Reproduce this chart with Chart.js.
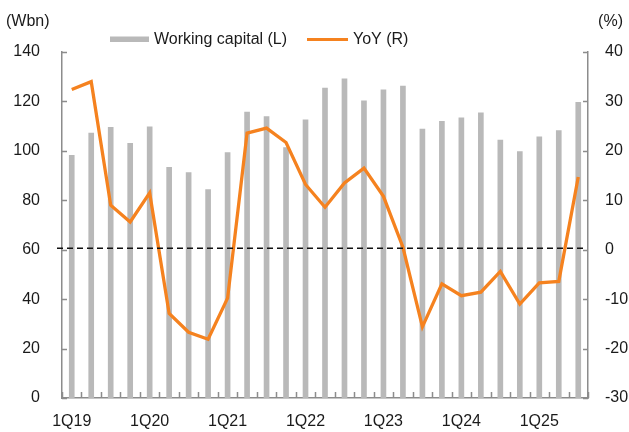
<!DOCTYPE html>
<html>
<head>
<meta charset="utf-8">
<script src="https://cdn.jsdelivr.net/npm/chart.js@4.4.1/dist/chart.umd.min.js"></script>
<style>
  html, body { margin: 0; padding: 0; background: #fff; }
  #wrap { width: 629px; height: 432px; }
</style>
</head>
<body>
<div id="wrap"><canvas id="wcChart" width="629" height="432"></canvas></div>
<script>
// Quarters 1Q19 .. 3Q25
const quarters = [
    '1Q19', '2Q19', '3Q19', '4Q19',
    '1Q20', '2Q20', '3Q20', '4Q20',
    '1Q21', '2Q21', '3Q21', '4Q21',
    '1Q22', '2Q22', '3Q22', '4Q22',
    '1Q23', '2Q23', '3Q23', '4Q23',
    '1Q24', '2Q24', '3Q24', '4Q24',
    '1Q25', '2Q25', '3Q25'
];

// Working capital, Wbn (left axis)
const workingCapital = [
    98.2, 107.2, 109.5, 103.0,
    109.7, 93.3, 91.2, 84.3,
    99.3, 115.7, 113.9, 101.3,
    112.6, 125.4, 129.1, 120.2,
    124.7, 126.2, 108.8, 111.9,
    113.4, 115.4, 104.4, 99.7,
    105.7, 108.2, 119.6
];

// YoY %, right axis
const yoy = [
    32.4, 34.0, 9.0, 5.6,
    11.5, -12.9, -16.7, -18.1,
    -9.8, 23.6, 24.6, 21.7,
    13.2, 8.6, 13.5, 16.5,
    10.8, 0.5, -15.6, -6.9,
    -9.3, -8.6, -4.4, -11.0,
    -6.7, -6.4, 14.7
];

const leftTicks = [0, 20, 40, 60, 80, 100, 120, 140];
const rightTicks = [-30, -20, -10, 0, 10, 20, 30, 40];

const axisGray = '#8c8c8c';
const barGray = '#b9b9b9';
const orange = '#f5821f';
const textColor = '#1a1a1a';
const fontFamily = "'Liberation Sans', Arial, sans-serif";

// ticks pointing into the plot, dashed zero line, units and legend
const decorPlugin = {
    id: 'decor',
    beforeDatasetsDraw(chart) {
        const ctx = chart.ctx;
        const area = chart.chartArea;
        const y = chart.scales.y;
        const y1 = chart.scales.y1;
        ctx.save();
        ctx.strokeStyle = axisGray;
        ctx.lineWidth = 1.5;
        ctx.beginPath();
        leftTicks.forEach(v => {
            const py = Math.round(y.getPixelForValue(v)) + 0.5;
            ctx.moveTo(area.left, py);
            ctx.lineTo(area.left + 5, py);
        });
        rightTicks.forEach(v => {
            const py = Math.round(y1.getPixelForValue(v)) + 0.5;
            ctx.moveTo(area.right, py);
            ctx.lineTo(area.right - 5, py);
        });
        const step = (area.right - area.left) / quarters.length;
        for (let i = 0; i <= quarters.length; i++) {
            const px = Math.round(area.left + i * step) + 0.5;
            ctx.moveTo(px, area.bottom);
            ctx.lineTo(px, area.bottom - 6);
        }
        ctx.stroke();
        ctx.restore();
    },
    afterDatasetsDraw(chart) {
        const ctx = chart.ctx;
        const area = chart.chartArea;
        const y1 = chart.scales.y1;
        const zy = y1.getPixelForValue(0) - 1.5;
        ctx.save();
        ctx.strokeStyle = '#111';
        ctx.lineWidth = 1.5;
        ctx.setLineDash([6, 4]);
        ctx.beginPath();
        ctx.moveTo(area.left - 5, zy);
        ctx.lineTo(area.right - 5, zy);
        ctx.stroke();
        ctx.restore();
    },
    afterDraw(chart) {
        const ctx = chart.ctx;
        const ds = chart.data.datasets;
        const barSet = ds.find(d => d.type === 'bar');
        const lineSet = ds.find(d => d.type === 'line');
        ctx.save();
        ctx.font = '16px ' + fontFamily;
        ctx.fillStyle = textColor;
        ctx.textBaseline = 'middle';
        ctx.textAlign = 'left';
        ctx.fillText('(Wbn)', 6, 22);
        ctx.textAlign = 'right';
        ctx.fillText('(%)', 623, 22);

        // legend
        ctx.textAlign = 'left';
        ctx.fillStyle = barGray;
        ctx.fillRect(110, 36.5, 39, 5.5);
        ctx.fillStyle = textColor;
        ctx.fillText(barSet.label, 154, 40);
        ctx.strokeStyle = orange;
        ctx.lineWidth = 3;
        ctx.beginPath();
        ctx.moveTo(307, 39.5);
        ctx.lineTo(348, 39.5);
        ctx.stroke();
        ctx.fillText(lineSet.label, 353, 40);
        ctx.restore();
    }
};

const ctx = document.getElementById('wcChart').getContext('2d');

new Chart(ctx, {
    type: 'bar',
    data: {
        labels: quarters,
        datasets: [
            {
                type: 'line',
                label: 'YoY (R)',
                data: yoy,
                yAxisID: 'y1',
                borderColor: orange,
                backgroundColor: orange,
                borderWidth: 3.3,
                pointRadius: 0,
                tension: 0,
                order: 0
            },
            {
                type: 'bar',
                label: 'Working capital (L)',
                data: workingCapital,
                yAxisID: 'y',
                backgroundColor: barGray,
                barThickness: 5,
                order: 1
            }
        ]
    },
    options: {
        responsive: false,
        animation: false,
        layout: { padding: { top: 52, left: 0, right: 0, bottom: 0 } },
        plugins: {
            legend: { display: false },
            tooltip: { enabled: false }
        },
        scales: {
            x: {
                grid: { display: false, drawTicks: false },
                border: { display: true, color: axisGray, width: 1.5 },
                ticks: {
                    autoSkip: false,
                    maxRotation: 0,
                    padding: 14,
                    color: textColor,
                    font: { family: fontFamily, size: 16 },
                    callback: function (val, i) {
                        return i % 4 === 0 ? quarters[i] : '';
                    }
                },
                afterFit: function (scale) { scale.height = 34; }
            },
            y: {
                position: 'left',
                min: 0,
                max: 140,
                grid: { display: false, drawTicks: false },
                border: { display: true, color: axisGray, width: 1.5 },
                ticks: {
                    stepSize: 20,
                    padding: 22,
                    color: textColor,
                    font: { family: fontFamily, size: 16 }
                },
                afterFit: function (scale) { scale.width = 62; }
            },
            y1: {
                position: 'right',
                min: -30,
                max: 40,
                grid: { display: false, drawTicks: false },
                border: { display: true, color: axisGray, width: 1.5 },
                ticks: {
                    stepSize: 10,
                    padding: 17,
                    color: textColor,
                    font: { family: fontFamily, size: 16 }
                },
                afterFit: function (scale) { scale.width = 41; }
            }
        }
    },
    plugins: [decorPlugin]
});
</script>
</body>
</html>
